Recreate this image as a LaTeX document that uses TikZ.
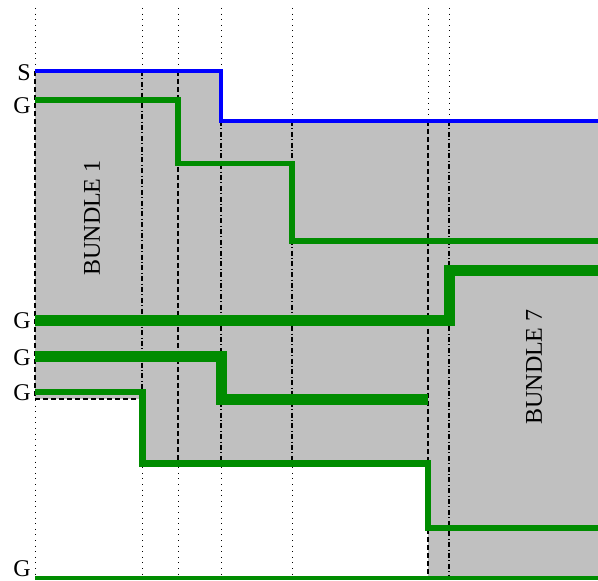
\documentclass[tikz,border=0pt]{standalone}
\usepackage{fontspec}
\setmainfont{Liberation Serif}
\usetikzlibrary{calc}
\definecolor{wireGreen}{RGB}{0,140,0}
\definecolor{wireBlue}{RGB}{0,0,255}
\definecolor{bundleGray}{RGB}{192,192,192}

\begin{document}
\begin{tikzpicture}[x=0.5pt, y=-0.5pt, font=\fontsize{12}{14}\selectfont,
    guide/.style={line width=0.5pt, dash pattern=on 0.5pt off 2.3pt},
    edge/.style={line width=0.55pt, dash pattern=on 2.5pt off 1.5pt},
    edgedot/.style={line width=0.55pt, dash pattern=on 2.5pt off 1.2pt on 0.5pt off 1.2pt},
    wire/.style={draw=wireGreen, line width=#1},
    pin/.style={anchor=east, inner sep=0pt}]
    \useasboundingbox (0,0) rectangle (598,581);
    \foreach \x in {35,142,178,221,292,428,449}
      \draw[guide] (\x,8) -- (\x,581);
    % bundle areas
    \fill[bundleGray] (35,71) -- (221,71) -- (221,121) -- (598,121) -- (598,578)
      -- (428,578) -- (428,463) -- (142,463) -- (142,399) -- (35,399) -- cycle;
    \foreach \x/\a/\b in {35/71/399,178/71/463,428/121/578}
      \draw[edge] (\x,\a) -- (\x,\b);
    \foreach \x/\a/\b in {142/71/463,221/121/463,292/121/463,449/121/578}
      \draw[edgedot] (\x,\a) -- (\x,\b);
    \draw[edge] (35,399) -- (142,399);
    \node[rotate=90] (bundleA) at (92,218) {BUNDLE 1};
    \node[rotate=90] (bundleB) at (534,367) {BUNDLE 7};
    % wires
    \draw[wireBlue, line width=1.6pt] (35,71) -| (221,121) -- (598,121);
    \draw[wire=2.65pt] (35,100) -| (178,163.5) -| (292,241) -- (598,241);
    \draw[wire=5.5pt] (35,321) -| (449.5,271) -- (598,271);
    \draw[wire=5.5pt] (35,357) -| (221,400) -- (428,400);
    \draw[wire=3.4pt] (35,392) -| (142.5,463.3) -| (428,528) -- (598,528);
    \draw[wire=2pt] (35,578) -- (598,578);
    \foreach \i/\y/\t in {1/73/S,2/106/G,3/321/G,4/357.5/G,5/392.5/G,6/569/G}
      \node[pin] (pin\i) at (31,\y) {\t};
  \end{tikzpicture}
\end{document}
